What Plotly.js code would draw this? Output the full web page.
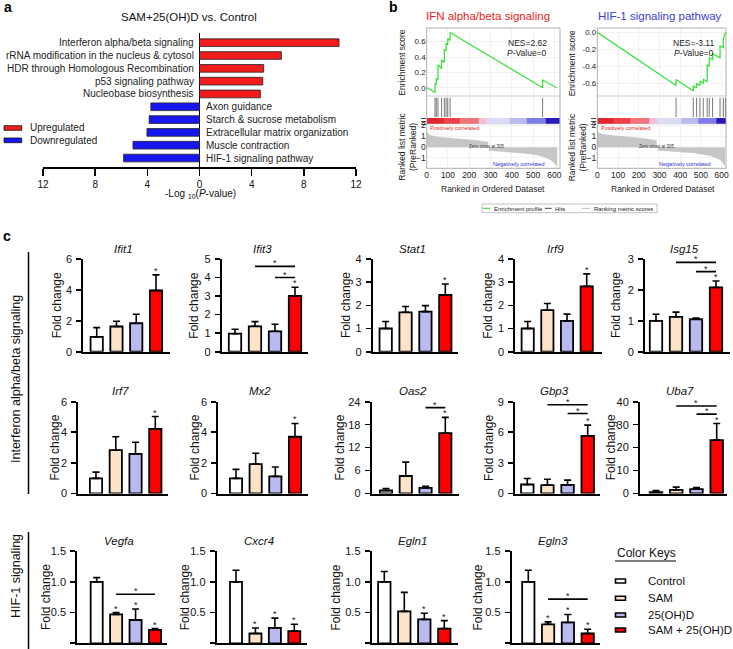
<!DOCTYPE html>
<html><head><meta charset="utf-8">
<script src="https://cdn.plot.ly/plotly-3.0.1.min.js"></script>
<style>html,body{margin:0;padding:0;background:#fff}#chart{width:733px;height:649px}</style>
</head><body><div id="chart"></div>
<script>
// ================= DATA =================
// Panel a
const pathwaysUp = ['Interferon alpha/beta signaling','rRNA modification in the nucleus & cytosol','HDR through Homologous Recombination','p53 signaling pathway','Nucleobase biosynthesis'];
const pathwaysUpLogP = [10.7, 6.28, 4.92, 4.85, 4.67];
const pathwaysDown = ['Axon guidance','Starch & sucrose metabolism','Extracellular matrix organization','Muscle contraction','HIF-1 signaling pathway'];
const pathwaysDownLogP = [3.73, 3.86, 4.03, 5.1, 5.82];
const aTickVals = [-12,-8,-4,0,4,8,12];
const aTickText = ['12','8','4','0','4','8','12'];

// Panel b - IFN alpha/beta
const ifnEsX = [0,39,39,45,45,53,53,70,70,83,83,91,91,99,99,110,110,545,545,612];
const ifnEsY = [0,-0.06,0.05,0.04,0.12,0.10,0.30,0.25,0.36,0.33,0.50,0.48,0.58,0.56,0.64,0.62,0.72,0.0,0.10,0.0];
const ifnHits = [39,45,53,70,83,91,99,110,545];
const ifnBarEdges = [0,78,157,243,282,392,470,561,627];
const ifnPosX = [0,3,12,23,60,157,230,290];
const ifnPosY = [1.48,1.3,1.15,1.05,0.9,0.77,0.62,0.46];
const ifnNegX = [292,360,438,500,532,560,587,605,614];
const ifnNegY = [-0.31,-0.4,-0.52,-0.66,-0.77,-0.95,-1.23,-1.5,-1.85];
// Panel b - HIF-1
const hifEsX = [0,380,380,463,463,479,479,495,495,511,511,530,530,540,540,556,556,592,592,608,608,618];
const hifEsY = [0,-0.625,-0.555,-0.69,-0.63,-0.655,-0.60,-0.625,-0.575,-0.60,-0.55,-0.585,-0.38,-0.40,-0.30,-0.32,-0.25,-0.30,-0.16,-0.18,-0.07,0.0];
const hifHits = [380,463,479,495,511,530,540,556,592,608,618];
const hifBarEdges = [0,77,158,251,291,407,487,576,621];
const hifPosX = [0,4,18,29,80,142,220,286];
const hifPosY = [1.57,1.35,1.22,1.17,1.05,0.95,0.8,0.62];
const hifNegX = [291,380,463,544,570,592,605,616];
const hifNegY = [-0.28,-0.4,-0.52,-0.77,-0.95,-1.14,-1.4,-1.75];
const rankBarColors = ['#e3262d','#ea4349','#f07479','#f6c0d6','#dcdcf7','#babaef','#7e7ee6','#2a18b8'];

// Panel c
const groups = ['Control','SAM','25(OH)D','SAM + 25(OH)D'];
const groupColors = ['#ffffff','#fde3c8','#babaf2','#ff0000'];
const ifnGenes = ['Ifit1','Ifit3','Stat1','Irf9','Isg15','Irf7','Mx2','Oas2','Gbp3','Uba7'];
const ifnMeans = [
  [0.96,1.63,1.84,3.96],
  [0.97,1.37,1.10,3.01],
  [1.00,1.70,1.73,2.45],
  [1.00,1.79,1.33,2.82],
  [1.00,1.13,1.05,2.08],
  [0.99,2.83,2.59,4.23],
  [0.99,1.92,1.12,3.71],
  [0.78,4.58,1.47,15.8],
  [0.88,0.82,0.85,5.65],
  [0.58,1.60,1.90,23.3]];
const ifnErrs = [
  [0.60,0.34,0.58,1.01],
  [0.24,0.25,0.38,0.47],
  [0.30,0.25,0.26,0.47],
  [0.30,0.29,0.29,0.54],
  [0.21,0.15,0.04,0.21],
  [0.41,0.88,0.76,0.80],
  [0.59,0.71,0.61,0.87],
  [0.52,3.62,0.43,4.1],
  [0.59,0.58,0.46,1.05],
  [0.72,1.16,0.70,7.2]];
const ifnYMax = [6,5,4,4,3,6,6,24,9,40];
const ifnYStep = [2,1,1,1,1,2,2,6,3,10];
const ifnStars = [[3],[3],[3],[3],[3],[3],[3],[3],[3],[3]];
// brackets: [from bar, to bar, height]
const ifnBrackets = [[],[[1,3,4.6],[2,3,4.0]],[],[],[[1,3,2.89],[2,3,2.59]],[],[],[[2,3,22.45]],[[1,3,8.7],[2,3,7.84]],[[1,3,38.1],[2,3,34.6]]];

const hifGenes = ['Vegfa','Cxcr4','Egln1','Egln3'];
const hifMeans = [
  [1.00,0.47,0.38,0.22],
  [1.00,0.16,0.25,0.20],
  [1.00,0.52,0.39,0.24],
  [1.00,0.31,0.34,0.16]];
const hifErrs = [
  [0.07,0.03,0.18,0.02],
  [0.19,0.09,0.16,0.11],
  [0.17,0.31,0.10,0.13],
  [0.19,0.04,0.13,0.07]];
const hifYMax = [1.5,1.5,1.5,1.5];
const hifYStep = [0.5,0.5,0.5,0.5];
const hifStars = [[1,2,3],[1,2,3],[2,3],[1,2,3]];
const hifBrackets = [[[1,3,0.80]],[],[],[[1,3,0.72]]];

// ================= LAYOUT HELPERS =================
const W = 733, H = 649;
const PX = v => v / W, PY = v => 1 - v / H;
const FONT = 'Liberation Sans, Arial, sans-serif';
const traces = [];
const annotations = [];
const shapes = [];
const layout = {
  width: W, height: H, margin: {l:0,r:0,t:0,b:0},
  paper_bgcolor: '#fff', plot_bgcolor: 'rgba(0,0,0,0)',
  font: {family: FONT, color: '#000'}, showlegend: false
};
function ann(text, x, y, o) {
  annotations.push(Object.assign({text, x: PX(x), y: PY(y), xref: 'paper', yref: 'paper',
    showarrow: false, xanchor: 'center', yanchor: 'middle', font: {size: 10, color: '#111'}}, o || {}));
}
function pline(x0, y0, x1, y1, color, width) {
  shapes.push({type:'line', xref:'paper', yref:'paper', x0:PX(x0), y0:PY(y0), x1:PX(x1), y1:PY(y1), line:{color, width}});
}
function prect(x0, y0, x1, y1, fill, color, width) {
  shapes.push({type:'rect', xref:'paper', yref:'paper', x0:PX(x0), y0:PY(y0), x1:PX(x1), y1:PY(y1), fillcolor: fill, line:{color, width}});
}

// ================= PANEL A =================
const aY = pathwaysUp.map((_, i) => i).concat(pathwaysDown.map((_, i) => 5 + i));
const aX = pathwaysUpLogP.concat(pathwaysDownLogP.map(v => -v));
const aColors = pathwaysUp.map(() => '#f21c1c').concat(pathwaysDown.map(() => '#1616f0'));
traces.push({type:'bar', orientation:'h', x: aX, y: aY, width: 0.6, xaxis:'x', yaxis:'y',
  marker:{color: aColors, line:{color:'#222', width:0.8}}});
layout.xaxis = {domain:[PX(43), PX(356)], range:[-12,12], anchor:'y', showline:true, linecolor:'#000', linewidth:1.5,
  ticks:'outside', ticklen:7, tickwidth:1.5, tickcolor:'#000', tickvals: aTickVals, ticktext: aTickText,
  tickfont:{size:10, color:'#111'}, showgrid:false, zeroline:true, zerolinecolor:'#000', zerolinewidth:1.8};
layout.yaxis = {domain:[PY(167), PY(33.1)], range:[9.7,-0.75], anchor:'x', visible:false, showgrid:false, zeroline:false};
pathwaysUp.forEach((t, i) => annotations.push({text:t, x:0, y:i, xref:'x', yref:'y', showarrow:false,
  xanchor:'right', yanchor:'middle', xshift:-4, font:{size:10, color:'#222'}}));
pathwaysDown.forEach((t, i) => annotations.push({text:t, x:0, y:5+i, xref:'x', yref:'y', showarrow:false,
  xanchor:'left', yanchor:'middle', xshift:4, font:{size:10, color:'#222'}}));
ann('SAM+25(OH)D vs. Control', 189, 16.5, {font:{size:11.5, color:'#111'}});
ann('-Log <sub>10</sub>(<i>P</i>-value)', 200, 194, {font:{size:10, color:'#111'}});
prect(4, 125.7, 21.7, 130.3, '#f21c1c', '#111', 0.8);
prect(4, 138, 21.7, 142.7, '#1616f0', '#111', 0.8);
ann('Upregulated', 27.5, 128, {xanchor:'left', font:{size:10, color:'#222'}});
ann('Downregulated', 27.5, 140.5, {xanchor:'left', font:{size:10, color:'#222'}});
ann('<b>a</b>', 2, 7, {xanchor:'left', font:{size:14, color:'#000'}});

// ================= PANEL B =================
function gsea(opt) {
  const xa = 'xaxis' + opt.xn, xid = 'x' + opt.xn;
  const ids = opt.yn.map(n => 'y' + n);
  const [yEs, yHit, yBar, yMet] = ids;
  const grid = '#e9e9e9';
  layout[xa] = {domain:[PX(opt.l), PX(opt.r)], range:[0, opt.xmax], anchor: yMet, showline:false, ticks:'',
    tickvals:[0,100,200,300,400,500,600], tickfont:{size:8.5, color:'#222'}, showgrid:true, gridcolor:grid, gridwidth:0.6, zeroline:false};
  layout['yaxis' + opt.yn[0]] = {domain:[PY(96), PY(28)], range: opt.esRange, anchor: xid, ticks:'',
    tickvals: opt.esTicks, ticktext: opt.esTickText, tickfont:{size:8, color:'#222'}, showgrid:true, gridcolor:grid, gridwidth:0.6, zeroline:false};
  layout['yaxis' + opt.yn[1]] = {domain:[PY(118), PY(96)], range:[0,1], anchor: xid, showticklabels:false, showgrid:false, zeroline:false};
  layout['yaxis' + opt.yn[2]] = {domain:[PY(124), PY(118)], range:[0,1], anchor: xid, showticklabels:false, showgrid:false, zeroline:false};
  layout['yaxis' + opt.yn[3]] = {domain:[PY(168.3), PY(124)], range:[-1.95, 2.13], anchor: xid, ticks:'',
    tickvals:[-1,0,1,2], tickfont:{size:8.5, color:'#222'}, showgrid:true, gridcolor:grid, gridwidth:0.6, zeroline:false};
  // metric fill
  traces.push({type:'scatter', mode:'lines', x: opt.posX, y: opt.posY, fill:'tozeroy', fillcolor:'#c6c6c6',
    line:{color:'#bdbdbd', width:0.5}, xaxis: xid, yaxis: yMet});
  traces.push({type:'scatter', mode:'lines', x: opt.negX, y: opt.negY, fill:'tozeroy', fillcolor:'#c6c6c6',
    line:{color:'#bdbdbd', width:0.5}, xaxis: xid, yaxis: yMet});
  // colour bar
  traces.push({type:'heatmap', x: opt.edges, y:[0,1], z:[rankBarColors.map((_, i) => i)], zmin:0, zmax:rankBarColors.length-1,
    colorscale: rankBarColors.map((c, i) => [i/(rankBarColors.length-1), c]), showscale:false, xaxis: xid, yaxis: yBar});
  // hits
  const hx = [], hy = [];
  opt.hits.forEach(h => { hx.push(h, h, null); hy.push(0.04, 0.92, null); });
  traces.push({type:'scatter', mode:'lines', x: hx, y: hy, line:{color:'#555', width:0.8}, xaxis: xid, yaxis: yHit});
  // ES curve
  traces.push({type:'scatter', mode:'lines', x: opt.esX, y: opt.esY, line:{color:'#3ee23e', width:1.3}, xaxis: xid, yaxis: yEs});
  // frames
  prect(opt.l, 28, opt.r, 168.3, 'rgba(0,0,0,0)', '#999', 0.8);
  pline(opt.l, 96, opt.r, 96, '#aaa', 0.6);
  pline(opt.l, 124, opt.r, 124, '#ccc', 0.5);
  // texts
  ann(opt.title, opt.titleX, 16, {font:{size:11.5, color: opt.titleColor}});
  ann('NES=' + opt.nes, opt.nesR, 43, {xanchor:'right', font:{size:8.5, color:'#222'}});
  ann('<i>P</i>-Value=0', opt.nesR, 52.5, {xanchor:'right', font:{size:8.5, color:'#222'}});
  ann('Enrichment score', opt.l - 25, 63, {textangle:-90, font:{size:8.5, color:'#222'}});
  ann('Ranked list metric<br>(PreRanked)', opt.l - 20, 147, {textangle:-90, font:{size:8.5, color:'#222'}});
  ann('Ranked in Ordered Dataset', opt.xtX, 189, {font:{size:8.5, color:'#222'}});
  ann('Positively correlated', opt.l + 1.5, 128, {xanchor:'left', font:{size:5.5, color:'#e02020'}});
  ann('Negatively correlated', opt.r - 13, 164, {xanchor:'right', font:{size:5.5, color:'#3030d0'}});
  ann('Zero cross at 305', opt.zcX, 146.5, {font:{size:4.5, color:'#333'}});
}
gsea({xn:2, yn:[2,3,4,5], l:426.7, r:560, xmax:626.8, esRange:[-0.108,0.778], esTicks:[0,0.2,0.4,0.6],
  esTickText:['0.0','0.2','0.4','0.6'], esX: ifnEsX, esY: ifnEsY, hits: ifnHits, edges: ifnBarEdges,
  posX: ifnPosX, posY: ifnPosY, negX: ifnNegX, negY: ifnNegY, title:'IFN alpha/beta signaling', titleX:488.3,
  titleColor:'#ee2020', nes:'2.62', nesR:548.5, xtX:493.3, zcX:487});
gsea({xn:3, yn:[6,7,8,9], l:597.3, r:726, xmax:620.8, esRange:[-0.749,0.051], esTicks:[0,-0.2,-0.4,-0.6],
  esTickText:['0.0','-0.2','-0.4','-0.6'], esX: hifEsX, esY: hifEsY, hits: hifHits, edges: hifBarEdges,
  posX: hifPosX, posY: hifPosY, negX: hifNegX, negY: hifNegY, title:'HIF-1 signaling pathway', titleX:660,
  titleColor:'#3c3cd6', nes:'-3.11', nesR:715.5, xtX:663.3, zcX:657});
// legend of panel b
prect(482, 204, 657, 212.7, '#fff', '#999', 0.6);
pline(482.7, 208.3, 490, 208.3, '#3ee23e', 1.2);
ann('Enrichment profile', 491.7, 208.5, {xanchor:'left', font:{size:6, color:'#222'}});
pline(545, 208.3, 551.7, 208.3, '#444', 1);
ann('Hits', 552.8, 208.5, {xanchor:'left', font:{size:6, color:'#222'}});
pline(581.7, 208.3, 590, 208.3, '#bbb', 1);
ann('Ranking metric scores', 591.7, 208.5, {xanchor:'left', font:{size:6, color:'#222'}});
ann('<b>b</b>', 387, 7, {xanchor:'left', font:{size:14, color:'#000'}});

// ================= PANEL C =================
// l/r: axis span, c0/c1: first/last bar centre, yt/yb: axis top/bottom, ft: y-title offset (pixels)
const ifnBoxes = [
  {l:83.3, r:170, c0:96.7, c1:156, yt:259, yb:351.7, ft:26.3},
  {l:221.7, r:308.3, c0:235, c1:295, yt:259, yb:351.7, ft:27.4},
  {l:372.7, r:458.3, c0:385.7, c1:445.3, yt:259, yb:351.7, ft:26},
  {l:515.3, r:601.7, c0:527.7, c1:586.7, yt:259, yb:351.7, ft:27},
  {l:645, r:730, c0:656, c1:716, yt:259, yb:351.7, ft:28.3},
  {l:78.3, r:168.3, c0:96, c1:155.3, yt:401.7, yb:493.5, ft:23.3},
  {l:218.3, r:308.3, c0:236, c1:295, yt:401.7, yb:493.5, ft:23.3},
  {l:371.7, r:459.3, c0:386, c1:445.3, yt:401.7, yb:493.5, ft:31.7},
  {l:515, r:600, c0:527.3, c1:587.7, yt:401.7, yb:493.5, ft:26.7},
  {l:640, r:726.7, c0:656, c1:716.7, yt:401.7, yb:493.5, ft:29.3}];
const hifBoxes = [
  {l:77.3, r:166.7, c0:96.7, c1:155, yt:551.3, yb:643.3, ft:30.6},
  {l:216.7, r:306.7, c0:236, c1:294.3, yt:551.3, yb:643.3, ft:31.7},
  {l:371.7, r:458.3, c0:384.3, c1:444.3, yt:551.3, yb:643.3, ft:35.5},
  {l:511.7, r:600, c0:528.3, c1:587.7, yt:551.3, yb:643.3, ft:33.4}];

let chartN = 0;
function barChart(gene, means, errs, ymax, ystep, stars, brackets, box, fmt) {
  const xn = 4 + chartN, yn = 10 + chartN; chartN++;
  const xid = 'x' + xn, yid = 'y' + yn;
  const unit = (box.c1 - box.c0) / 3;
  const r0 = -(box.c0 - box.l) / unit, r1 = 3 + (box.r - box.c1) / unit;
  const tv = []; for (let v = 0; v <= ymax + 1e-9; v += ystep) tv.push(+v.toFixed(3));
  layout['xaxis' + xn] = {domain:[PX(box.l), PX(box.r)], range:[r0, r1], anchor: yid, showline:true, linecolor:'#000',
    linewidth:2, ticks:'', showticklabels:false, showgrid:false, zeroline:false};
  layout['yaxis' + yn] = {domain:[PY(box.yb), PY(box.yt)], range:[0, ymax], anchor: xid, showline:true, linecolor:'#000',
    linewidth:2, ticks:'outside', ticklen:5, tickwidth:1.6, tickcolor:'#000', tickvals: tv, tickformat: fmt,
    tickfont:{size:11, color:'#111'}, ticklabelstandoff:2, showgrid:false, zeroline:false};
  traces.push({type:'bar', x:[0,1,2,3], y: means, width:0.62, xaxis: xid, yaxis: yid, cliponaxis:false,
    marker:{color: groupColors, line:{color:'#000', width:1.8}},
    error_y:{type:'data', symmetric:false, array: errs, arrayminus: errs.map(() => 0), color:'#000', thickness:1.6, width:3.5}});
  stars.forEach(i => annotations.push({text:'*', x:i, y: means[i] + errs[i], xref: xid, yref: yid, showarrow:false,
    xanchor:'center', yanchor:'bottom', yshift:-3, font:{size:9, color:'#111'}}));
  brackets.forEach(b => {
    shapes.push({type:'line', xref: xid, yref: yid, x0: b[0], x1: b[1], y0: b[2], y1: b[2], line:{color:'#000', width:1.6}});
    annotations.push({text:'*', x:(b[0] + b[1]) / 2, y: b[2], xref: xid, yref: yid, showarrow:false,
      xanchor:'center', yanchor:'bottom', yshift:-4, font:{size:9, color:'#111'}});
  });
  ann('<i>' + gene + '</i>', (box.l + box.r) / 2 - 3, box.yt - 10.5, {font:{size:11.5, color:'#111'}});
  ann('Fold change', box.l - box.ft, (box.yt + box.yb) / 2, {textangle:-90, font:{size:12, color:'#111'}});
}
ifnGenes.forEach((g, i) => barChart(g, ifnMeans[i], ifnErrs[i], ifnYMax[i], ifnYStep[i], ifnStars[i], ifnBrackets[i], ifnBoxes[i], 'd'));
hifGenes.forEach((g, i) => barChart(g, hifMeans[i], hifErrs[i], hifYMax[i], hifYStep[i], hifStars[i], hifBrackets[i], hifBoxes[i], '.1f'));

// section labels
ann('Interferon alpha/beta signaling', 16, 379, {textangle:-90, font:{size:12.5, color:'#111'}});
pline(28.5, 252, 28.5, 494, '#000', 1.5);
ann('HIF-1 signaling', 16, 576, {textangle:-90, font:{size:12.5, color:'#111'}});
pline(28.5, 532, 28.5, 649, '#000', 1.5);
ann('<b>c</b>', 1, 236, {xanchor:'left', font:{size:14, color:'#000'}});

// colour keys
ann('Color Keys', 615, 553, {xanchor:'left', font:{size:12, color:'#111'}});
pline(615, 561, 676, 561, '#000', 1.2);
const keyY = [581, 598.3, 615, 630];
groups.forEach((g, i) => {
  prect(615.5, keyY[i] - 2, 625.5, keyY[i] + 2, groupColors[i], '#000', 1.6);
  ann(g, 646, keyY[i], {xanchor:'left', font:{size:11.5, color:'#111'}});
});

layout.annotations = annotations;
layout.shapes = shapes;
Plotly.newPlot('chart', traces, layout, {staticPlot:true, displayModeBar:false});
</script>
</body></html>
